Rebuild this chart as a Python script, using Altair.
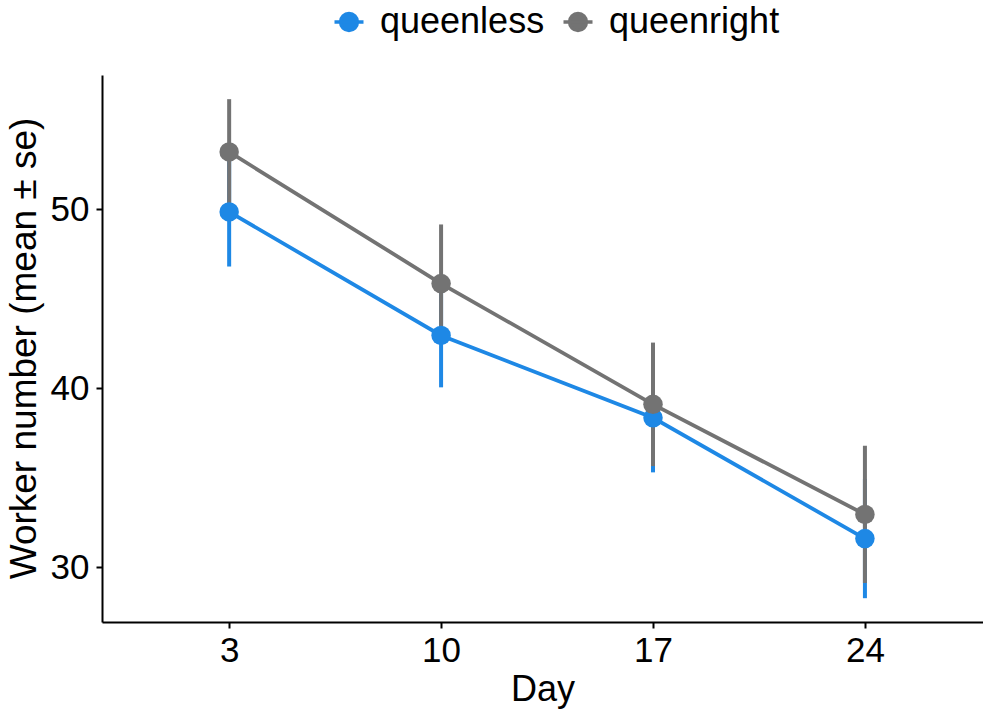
import altair as alt
import pandas as pd

days = [3, 10, 17, 24]
groups = ["queenless", "queenright"]
mean_queenless = [49.85, 42.95, 38.35, 31.6]
se_queenless = [3.05, 2.9, 3.05, 3.33]
mean_queenright = [53.2, 45.85, 39.1, 32.95]
se_queenright = [2.95, 3.3, 3.45, 3.83]
colors = ["#1E88E5", "#737373"]

rows = []
for g, means, ses in [("queenless", mean_queenless, se_queenless),
                      ("queenright", mean_queenright, se_queenright)]:
    for d, m, s in zip(days, means, ses):
        rows.append({"day": d, "group": g, "mean": m, "lo": m - s, "hi": m + s})
df = pd.DataFrame(rows)

FONT = "Liberation Sans"
TICK_FS = 35
TITLE_FS = 36
LEG_FS = 36

xscale = alt.Scale(domain=[-1.2, 27.9], nice=False, zero=False)
yscale = alt.Scale(domain=[26.94, 57.5], nice=False, zero=False)
color = alt.Color(
    "group:N",
    scale=alt.Scale(domain=groups, range=colors),
    legend=alt.Legend(
        title=None, orient="none", direction="horizontal",
        legendX=229, legendY=-71, padding=0, labelLimit=0,
        symbolType="M-1,0L1,0M0.58,0A0.58,0.58,0,1,1,-0.58,0A0.58,0.58,0,1,1,0.58,0Z",
        symbolSize=841, symbolStrokeWidth=3.5, symbolOpacity=1,
        labelFont=FONT, labelFontSize=LEG_FS, labelColor="black",
        labelOffset=13, columnPadding=11,
    ),
)

xaxis = alt.Axis(
    values=days, title="Day", grid=False, domainColor="black", domainWidth=2,
    tickColor="black", tickWidth=2, tickSize=6, labelPadding=5,
    labelFont=FONT, labelFontSize=TICK_FS, labelColor="black",
    titleFont=FONT, titleFontSize=TITLE_FS, titleFontWeight="normal", titleColor="black",
    titleY=78, titleBaseline="alphabetic",
)
yaxis = alt.Axis(
    values=[30, 40, 50], title="Worker number (mean ± se)", grid=False,
    domainColor="black", domainWidth=2, tickColor="black", tickWidth=2, tickSize=6,
    labelPadding=7, labelFont=FONT, labelFontSize=TICK_FS, labelColor="black",
    titleFont=FONT, titleFontSize=37, titleFontWeight="normal", titleColor="black",
    titleX=-78, titleY=273, titleAngle=-90, titleAlign="center", titleBaseline="middle",
)

base = alt.Chart(df)
x = alt.X("day:Q", scale=xscale, axis=xaxis)
bars = base.mark_rule(strokeWidth=4).encode(
    x=x, y=alt.Y("lo:Q", scale=yscale, axis=yaxis), y2="hi:Q",
    color=color,
)
lines = base.mark_line(strokeWidth=3.8).encode(
    x=x, y=alt.Y("mean:Q", scale=yscale), color=color, detail="group:N",
)
points = base.mark_point(filled=True, size=380, opacity=1).encode(
    x=x, y=alt.Y("mean:Q", scale=yscale), color=color,
)

chart = alt.layer(bars, lines, points).properties(
    width=881, height=547,
    autosize=alt.AutoSizeParams(type="none"),
    padding={"left": 102, "top": 75, "right": 0, "bottom": 91},
).configure(background="white").configure_view(stroke=None, strokeWidth=0)

chart.save("out.html", embed_options={"renderer": "svg", "actions": False})
